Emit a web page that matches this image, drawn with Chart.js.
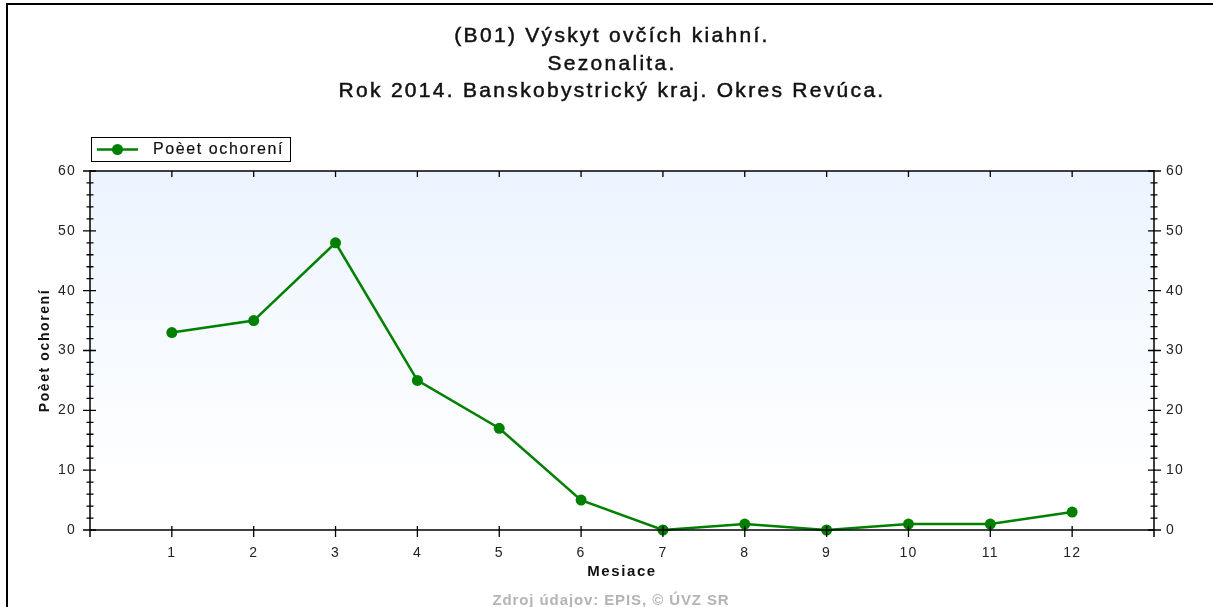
<!DOCTYPE html>
<html lang="sk">
<head>
  <meta charset="UTF-8">
  <title>Výskyt ovčích kiahní - sezonalita</title>
  <script src="https://cdn.jsdelivr.net/npm/chart.js"></script>
  <style>
    html, body { margin: 0; padding: 0; background: #fff; }
    #wrap { width: 1213px; height: 607px; }
  </style>
</head>
<body>
  <div id="wrap"><canvas id="seasonChart"></canvas></div>

  <script>
    const titleLines = ['(B01) Výskyt ovčích kiahní.', 'Sezonalita.', 'Rok 2014. Banskobystrický kraj. Okres Revúca.'];
    const seriesLabel = 'Poèet ochorení';
    const xTitle = 'Mesiace';
    const sourceText = 'Zdroj údajov: EPIS, © ÚVZ SR';

    const months = [1, 2, 3, 4, 5, 6, 7, 8, 9, 10, 11, 12];
    const cases = [33, 35, 48, 25, 17, 5, 0, 1, 0, 1, 1, 3];

    const green = '#008000';
    const font = '"Liberation Sans", Arial, sans-serif';

    // the old report renderer spaces its glyphs wide, so text gets extra letter spacing
    function text(ctx, str, x, y, f, spacing, heavy) {
      ctx.font = f;
      ctx.letterSpacing = spacing + 'px';
      const w = ctx.measureText(str).width;
      const align = ctx.textAlign;
      ctx.textAlign = 'left';
      let sx = x;
      if (align === 'center') sx = x - w / 2;
      ctx.fillText(str, sx, y);
      if (heavy) {
        ctx.lineWidth = heavy;
        ctx.strokeStyle = ctx.fillStyle;
        ctx.strokeText(str, sx, y);
      }
      ctx.textAlign = align;
    }

    // background, frame, axes with minor ticks, titles and legend box
    const decor = {
      id: 'decor',
      beforeDraw(chart) {
        const ctx = chart.ctx;
        const a = chart.chartArea;
        ctx.save();
        ctx.fillStyle = '#fff';
        ctx.fillRect(0, 0, chart.width, chart.height);
        const g = ctx.createLinearGradient(0, a.top, 0, a.bottom);
        g.addColorStop(0, '#ebf4fe');
        g.addColorStop(0.88, '#ffffff');
        ctx.fillStyle = g;
        ctx.fillRect(a.left, a.top, a.right - a.left, a.bottom - a.top);

        // outer frame
        ctx.strokeStyle = '#000';
        ctx.lineWidth = 2;
        ctx.beginPath();
        ctx.moveTo(7, chart.height);
        ctx.lineTo(7, 4);
        ctx.lineTo(chart.width, 4);
        ctx.stroke();

        // title
        ctx.fillStyle = '#111';
        ctx.textAlign = 'center';
        ctx.textBaseline = 'middle';
        titleLines.forEach((t, i) => text(ctx, t, 612, 36.5 + i * 27.5, '21px ' + font, 2.3, 0.5));
        ctx.restore();

        // tick labels drawn by the scales pick this up
        ctx.letterSpacing = '1.2px';
      },
      afterDraw(chart) {
        const ctx = chart.ctx;
        const a = chart.chartArea;
        const x = chart.scales.x;
        const y = chart.scales.y;
        ctx.save();
        ctx.strokeStyle = '#000';
        ctx.lineWidth = 1.5;
        ctx.beginPath();
        ctx.rect(a.left, a.top, a.right - a.left, a.bottom - a.top);
        ctx.moveTo(a.left, a.bottom); ctx.lineTo(a.left, a.bottom + 7);
        ctx.moveTo(a.right, a.bottom); ctx.lineTo(a.right, a.bottom + 7);
        ctx.stroke();

        ctx.lineWidth = 1.3;
        ctx.beginPath();
        months.forEach(m => {
          const px = x.getPixelForValue(m);
          ctx.moveTo(px, a.bottom - 4); ctx.lineTo(px, a.bottom + 7);
          ctx.moveTo(px, a.top); ctx.lineTo(px, a.top + 6);
        });
        for (let v = y.min; v <= y.max; v += 2) {
          const py = y.getPixelForValue(v);
          const major = v % 10 === 0;
          const outer = major ? 7 : 3.5;
          const inner = major ? 6 : 3.5;
          ctx.moveTo(a.left - outer, py); ctx.lineTo(a.left + inner, py);
          ctx.moveTo(a.right - inner, py); ctx.lineTo(a.right + outer, py);
        }
        ctx.stroke();

        // legend
        ctx.fillStyle = '#fff';
        ctx.fillRect(91, 137, 199, 24);
        ctx.lineWidth = 1;
        ctx.strokeRect(91.5, 137.5, 199, 24);
        ctx.strokeStyle = green;
        ctx.lineWidth = 2.5;
        ctx.beginPath();
        ctx.moveTo(97, 149.5); ctx.lineTo(138, 149.5);
        ctx.stroke();
        ctx.fillStyle = green;
        ctx.beginPath();
        ctx.arc(117.5, 149.5, 5.5, 0, Math.PI * 2);
        ctx.fill();
        ctx.fillStyle = '#111';
        ctx.textAlign = 'left';
        ctx.textBaseline = 'middle';
        text(ctx, seriesLabel, 153, 150, '16px ' + font, 1.6, 0.2);

        // axis titles and source
        ctx.textAlign = 'center';
        text(ctx, xTitle, (a.left + a.right) / 2, 572, 'bold 15px ' + font, 1.6);
        ctx.fillStyle = '#b4b4b4';
        text(ctx, sourceText, 611, 601, 'bold 15px ' + font, 0.9);
        ctx.fillStyle = '#111';
        ctx.translate(45, (a.top + a.bottom) / 2);
        ctx.rotate(-Math.PI / 2);
        text(ctx, seriesLabel, 0, 0, 'bold 14px ' + font, 1.6);
        ctx.restore();
      }
    };

    const tickFont = { family: font, size: 14 };

    new Chart(document.getElementById('seasonChart').getContext('2d'), {
      type: 'line',
      data: {
        labels: months,
        datasets: [{
          label: seriesLabel,
          data: months.map((m, i) => ({ x: m, y: cases[i] })),
          borderColor: green,
          backgroundColor: green,
          borderWidth: 2.5,
          pointRadius: 5.5,
          pointHoverRadius: 5.5,
          pointBorderWidth: 0,
          tension: 0,
          clip: false
        }]
      },
      options: {
        responsive: true,
        maintainAspectRatio: false,
        animation: false,
        layout: { padding: { top: 171, left: 0, right: 0, bottom: 0 } },
        plugins: {
          legend: { display: false },
          title: { display: false },
          tooltip: { enabled: false }
        },
        scales: {
          x: {
            type: 'linear',
            min: 0,
            max: 13,
            afterBuildTicks: s => { s.ticks = months.map(v => ({ value: v })); },
            afterFit: s => { s.height = 77; },
            grid: { display: false },
            border: { display: false },
            ticks: { color: '#222', font: tickFont, padding: 7, maxRotation: 0 }
          },
          y: {
            position: 'left',
            min: 0,
            max: 60,
            afterFit: s => { s.width = 90; },
            grid: { display: false },
            border: { display: false },
            ticks: { stepSize: 10, color: '#222', font: tickFont, padding: 6 }
          },
          y2: {
            position: 'right',
            min: 0,
            max: 60,
            afterFit: s => { s.width = 59; },
            grid: { display: false },
            border: { display: false },
            ticks: { stepSize: 10, color: '#222', font: tickFont, padding: 4 }
          }
        }
      },
      plugins: [decor]
    });
  </script>
</body>
</html>
